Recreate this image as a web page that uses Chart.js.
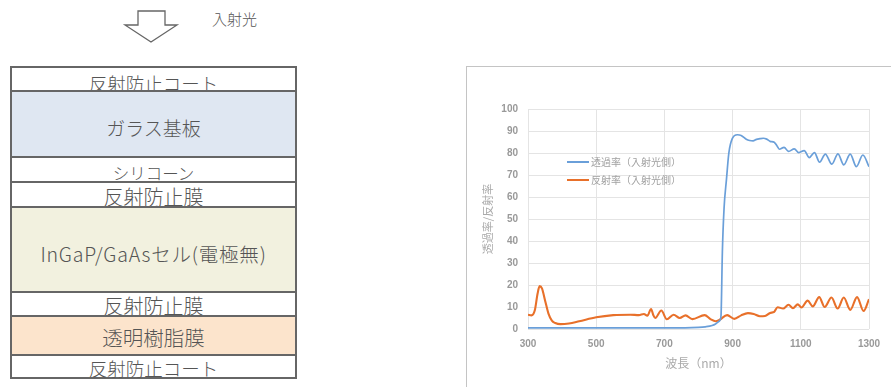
<!DOCTYPE html>
<html>
<head>
<meta charset="utf-8">
<script src="https://cdn.jsdelivr.net/npm/chart.js@4.4.0/dist/chart.umd.min.js"></script>
<style>
  body { margin: 0; width: 891px; height: 387px; background: #fff; overflow: hidden; position: relative;
         font-family: "Noto Sans CJK JP", "Noto Sans", sans-serif; }
  .row { position: absolute; left: 10px; width: 287px; box-sizing: border-box; border: 2px solid #666;
         text-align: center; color: #555; white-space: nowrap; font-weight: 300; }
  .row span { position: relative; display: inline-block; }
  #arrowLabel { position: absolute; left: 212px; top: 8px; font-size: 15px; color: #555; font-weight: 300; }
  #panel { position: absolute; left: 466px; top: 66px; width: 425px; height: 321px;
           border-left: 1px solid #c4c4c4; border-top: 1px solid #c4c4c4; }
  #panel canvas { position: absolute; left: 0; top: 0; }
</style>
</head>
<body>
<svg width="200" height="50" style="position:absolute;left:0;top:0">
  <polygon points="138,11 165,11 165,25 177,25 151,42 125,25 138,25" fill="#fff" stroke="#666" stroke-width="1.3"/>
</svg>
<div id="arrowLabel">入射光</div>
<div id="stack"></div>

<div id="panel"><canvas id="specChart" width="425" height="321"></canvas></div>

<script>
// layer stack (top to bottom)
const layerNames = ["反射防止コート", "ガラス基板", "シリコーン", "反射防止膜", "InGaP/GaAsセル(電極無)", "反射防止膜", "透明樹脂膜", "反射防止コート"];
const layerTops = [67, 91, 157, 182, 207, 292, 316, 355];
const layerBottoms = [91, 157, 182, 207, 292, 316, 355, 378];
const layerColors = ["#fff", "#dfe7f2", "#fff", "#fff", "#f2f1df", "#fff", "#fce4cc", "#fff"];
const layerFont = [18.5, 19, 16.5, 20, 19.5, 20, 20.5, 18.5];
const layerShift = [4, 4, 4, 2, 4, 2, 2, 2];
const layerSpacing = [0, 0, 0, 0, 0.8, 0, 0, 0];

// spectrum data
const transWl = [300, 400, 500, 600, 700, 760, 800, 820, 840, 850, 858, 863, 866, 870, 875, 882, 889, 899, 914, 925, 940, 950, 960, 970, 980, 990, 1000, 1010, 1022, 1030, 1037, 1051, 1064, 1081, 1094, 1110, 1125, 1140, 1155, 1172, 1191, 1209, 1226, 1245, 1263, 1282, 1300];
const transVal = [0.5, 0.5, 0.5, 0.5, 0.5, 0.5, 0.7, 1.0, 1.6, 2.3, 3.2, 4.0, 6, 35, 55, 68, 80, 86.5, 88.3, 88, 86.3, 85.7, 85.5, 86.2, 86.5, 86.7, 86.3, 85.3, 84.9, 83.3, 81.7, 82.6, 80.7, 81.9, 80.2, 81.1, 77.9, 80.2, 75.8, 79.5, 74.9, 79.6, 74.6, 79.5, 73.8, 79.1, 73.8];

const reflWl = [300, 310, 320, 328, 334, 341, 350, 360, 370, 380, 395, 420, 450, 500, 550, 600, 625, 640, 650, 661, 667, 673, 691, 707, 727, 745, 762, 782, 818, 835, 850, 862, 884, 905, 925, 945, 962, 980, 995, 1010, 1022, 1032, 1048, 1064, 1077, 1091, 1102, 1120, 1135, 1154, 1170, 1190, 1208, 1226, 1245, 1265, 1284, 1300];
const reflVal = [6.5, 6.2, 8.5, 16, 19.5, 18.5, 13, 7, 3.8, 2.7, 2.2, 2.5, 3.5, 5.3, 6.3, 6.5, 6.3, 6.8, 6, 9.1, 6.5, 5, 8.4, 4.4, 6.5, 5, 6.2, 4.5, 6.3, 4.5, 3.5, 4.2, 6.3, 4.6, 6.2, 7.2, 6.8, 5.8, 5.9, 7.3, 7.8, 9.9, 9.3, 11, 9.5, 11.2, 9.8, 12.9, 10.3, 14.5, 10, 14.3, 9.3, 14.3, 8.7, 14.5, 8.2, 13.5];

const seriesNames = ["透過率（入射光側）", "反射率（入射光側）"];
const xTicks = [300, 500, 700, 900, 1100, 1300];

// ===== Layer diagram =====
const stack = document.getElementById("stack");
layerNames.forEach((name, i) => {
  const row = document.createElement("div");
  row.className = "row";
  const h = layerBottoms[i] - layerTops[i];
  row.style.top = (layerTops[i] - 1) + "px";
  row.style.height = (h + 2) + "px";
  row.style.background = layerColors[i];
  row.style.fontSize = layerFont[i] + "px";
  row.style.lineHeight = (h - 2) + "px";
  row.style.letterSpacing = layerSpacing[i] + "px";
  const span = document.createElement("span");
  span.textContent = name;
  span.style.top = layerShift[i] + "px";
  row.appendChild(span);
  stack.appendChild(row);
});

// ===== Legend inside plot =====
const innerLegend = {
  id: "innerLegend",
  afterDraw(chart) {
    const { ctx, chartArea } = chart;
    ctx.save();
    ctx.font = '10px "Noto Sans CJK JP"';
    ctx.textBaseline = "middle";
    chart.data.datasets.forEach((ds, i) => {
      const y = chartArea.top + 53 + i * 18;
      const x = chartArea.left + 39;
      ctx.strokeStyle = ds.borderColor;
      ctx.lineWidth = 2;
      ctx.beginPath();
      ctx.moveTo(x, y);
      ctx.lineTo(x + 22, y);
      ctx.stroke();
      ctx.fillStyle = "#a0a0a0";
      ctx.fillText(ds.label, x + 24, y);
    });
    ctx.restore();
  }
};

// ===== Chart.js Setup =====
const toPoints = (xs, ys) => xs.map((x, i) => ({ x, y: ys[i] }));
const tickFont = { family: "Liberation Sans", size: 10, weight: "bold" };

new Chart(document.getElementById("specChart"), {
  type: "line",
  data: {
    datasets: [
      {
        label: seriesNames[0],
        data: toPoints(transWl, transVal),
        borderColor: "#6a9fd9",
        borderWidth: 1.7,
        pointRadius: 0,
        cubicInterpolationMode: "monotone"
      },
      {
        label: seriesNames[1],
        data: toPoints(reflWl, reflVal),
        borderColor: "#e8702a",
        borderWidth: 2.1,
        pointRadius: 0,
        cubicInterpolationMode: "monotone"
      }
    ]
  },
  options: {
    responsive: false,
    animation: false,
    layout: { padding: { top: 42, right: 23, left: 0, bottom: 0 } },
    plugins: { legend: { display: false }, tooltip: { enabled: false } },
    scales: {
      x: {
        type: "linear",
        min: 300,
        max: 1300,
        afterBuildTicks: (scale) => { scale.ticks = xTicks.map(v => ({ value: v })); },
        afterFit: (scale) => { scale.height = 59; },
        ticks: { color: "#999", font: tickFont, padding: 9, callback: (v) => String(v) },
        grid: { color: "#e4e4e4", drawTicks: false },
        border: { display: false },
        title: { display: true, text: "波長（nm）", color: "#aaa",
                 font: { family: "Noto Sans CJK JP", size: 12 }, padding: { top: 0, bottom: 17 } }
      },
      y: {
        min: 0,
        max: 100,
        afterFit: (scale) => { scale.width = 61; },
        ticks: { stepSize: 10, color: "#999", font: tickFont, padding: 10 },
        grid: { color: "#e4e4e4", drawTicks: false },
        border: { display: false },
        title: { display: true, text: "透過率/反射率", color: "#aaa",
                 font: { family: "Noto Sans CJK JP", size: 11 }, padding: { top: 14, bottom: 0 } }
      }
    }
  },
  plugins: [innerLegend]
});
</script>
</body>
</html>
